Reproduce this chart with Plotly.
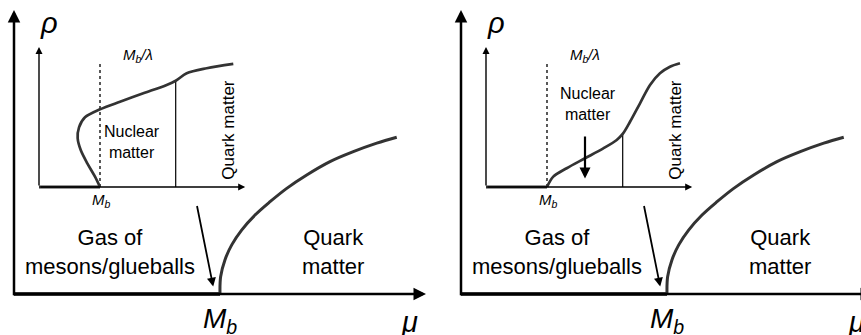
import plotly.graph_objects as go

# main diagram: mu in units of M_b, rho in arbitrary units
mu_quark = [1.0, 1.003, 1.024, 1.057, 1.105, 1.170, 1.243, 1.324, 1.421, 1.534, 1.647, 1.761, 1.858]
rho_quark = [0, 0.061, 0.120, 0.173, 0.225, 0.278, 0.325, 0.372, 0.419, 0.466, 0.501, 0.531, 0.552]
mu_gas = [0, 1.0]
rho_gas = [0, 0]

# inset, left panel (back-bending curve)
u_left = [1.0, 0.918, 0.792, 0.684, 0.634, 0.656, 0.754, 1.0, 1.328, 1.71, 2.093, 2.241, 2.421, 2.749, 3.185]
v_left = [0, 0.074, 0.169, 0.264, 0.348, 0.426, 0.498, 0.555, 0.609, 0.669, 0.729, 0.759, 0.812, 0.848, 0.879]
u_left_qm = [2.241, 2.241]
v_left_qm = [0, 0.759]

# inset, right panel (smooth curve)
u_right = [1.0, 1.103, 1.323, 1.623, 1.923, 2.143, 2.241, 2.361, 2.525, 2.689, 2.852, 3.016, 3.18]
v_right = [0, 0.074, 0.134, 0.205, 0.276, 0.336, 0.379, 0.466, 0.598, 0.729, 0.812, 0.859, 0.884]
u_right_qm = [2.241, 2.241]
v_right_qm = [0, 0.379]

u_dotted = [1.0, 1.0]
v_dotted = [0, 0.89]
u_base = [0, 1.0]
v_base = [0, 0]

W, H = 861, 335
FONT = "Arial, Liberation Sans, sans-serif"
CURVE = "#333333"

fig = go.Figure()

# axes: main left (x,y), main right (x2,y2), inset left (x3,y3), inset right (x4,y4)
def main_traces(xa, ya):
    fig.add_trace(go.Scatter(x=mu_gas, y=rho_gas, mode="lines", line=dict(color="black", width=3.5),
                             xaxis=xa, yaxis=ya, cliponaxis=False))
    fig.add_trace(go.Scatter(x=mu_quark, y=rho_quark, mode="lines", line=dict(color=CURVE, width=3, shape="spline"),
                             xaxis=xa, yaxis=ya, cliponaxis=False))

def inset_traces(xa, ya, u, v, uq, vq):
    fig.add_trace(go.Scatter(x=u_dotted, y=v_dotted, mode="lines", line=dict(color="black", width=1.3, dash="dot"),
                             xaxis=xa, yaxis=ya))
    fig.add_trace(go.Scatter(x=uq, y=vq, mode="lines", line=dict(color="black", width=1.2),
                             xaxis=xa, yaxis=ya))
    fig.add_trace(go.Scatter(x=u_base, y=v_base, mode="lines", line=dict(color=CURVE, width=3),
                             xaxis=xa, yaxis=ya))
    fig.add_trace(go.Scatter(x=u, y=v, mode="lines", line=dict(color=CURVE, width=2.7, shape="spline", smoothing=0.9),
                             xaxis=xa, yaxis=ya))

main_traces("x", "y")
main_traces("x2", "y2")
inset_traces("x3", "y3", u_left, v_left, u_left_qm, v_left_qm)
inset_traces("x4", "y4", u_right, v_right, u_right_qm, v_right_qm)

ann = []

def arrow(xr, yr, x, y, ax, ay, width, head=2, size=1.0):
    ann.append(dict(xref=xr, yref=yr, axref=xr, ayref=yr, x=x, y=y, ax=ax, ay=ay, text="",
                    showarrow=True, arrowhead=head, arrowsize=size, arrowwidth=width, arrowcolor="black"))

def label(xr, yr, x, y, text, size, angle=0):
    ann.append(dict(xref=xr, yref=yr, x=x, y=y, text=text, showarrow=False, textangle=angle,
                    font=dict(family=FONT, size=size, color="black")))

for xr, yr in [("x", "y"), ("x2", "y2")]:
    arrow(xr, yr, 0, 1.0, 0, -0.01, 2.5)
    arrow(xr, yr, 2.0, 0, -0.01, 0, 2.5)
    arrow(xr, yr, 0.967, 0.026, 0.887, 0.315, 1.8)
    label(xr, yr, 0.17, 0.955, "<i>ρ</i>", 29)
    label(xr, yr, 1.92, -0.1, "<i>μ</i>", 29)
    label(xr, yr, 1.0, -0.095, "<i>M<sub>b</sub></i>", 28)
    label(xr, yr, 0.466, 0.148, "Gas of<br>mesons/glueballs", 22)
    label(xr, yr, 1.549, 0.148, "Quark<br>matter", 22)

for xr, yr in [("x3", "y3"), ("x4", "y4")]:
    arrow(xr, yr, 0, 1.0, 0, 0, 1.4)
    arrow(xr, yr, 3.38, 0, 0, 0, 1.4)
    label(xr, yr, 1.62, 0.94, "<i>M<sub>b</sub>/λ</i>", 15)
    label(xr, yr, 1.03, -0.095, "<i>M<sub>b</sub></i>", 15)
    label(xr, yr, 3.1, 0.41, "Quark matter", 17, -90)

label("x3", "y3", 1.52, 0.32, "Nuclear<br>matter", 16)
label("x4", "y4", 1.677, 0.595, "Nuclear<br>matter", 16)
arrow("x4", "y4", 1.623, 0.06, 1.623, 0.371, 2.2)

def px_x(a, b):
    return [a / W, b / W]

def px_y(top, bottom):
    return [1 - bottom / H, 1 - top / H]

ax_hidden = dict(visible=False, fixedrange=True)
fig.update_layout(
    width=W, height=H, margin=dict(l=0, r=0, t=0, b=0),
    paper_bgcolor="white", plot_bgcolor="rgba(0,0,0,0)", showlegend=False,
    xaxis=dict(ax_hidden, domain=px_x(0, 430), range=[-14 / 206, 416 / 206]),
    yaxis=dict(ax_hidden, domain=[0, 1], range=[-41 / 284, 294 / 284]),
    xaxis2=dict(ax_hidden, domain=px_x(447, 861), range=[-14 / 206, 400 / 206]),
    yaxis2=dict(ax_hidden, domain=[0, 1], range=[-41 / 284, 294 / 284]),
    xaxis3=dict(ax_hidden, domain=px_x(30, 250), range=[-9 / 61, 211 / 61]),
    yaxis3=dict(ax_hidden, domain=px_y(40, 215), range=[-28 / 140, 147 / 140]),
    xaxis4=dict(ax_hidden, domain=px_x(477, 697), range=[-9 / 61, 211 / 61]),
    yaxis4=dict(ax_hidden, domain=px_y(40, 215), range=[-28 / 140, 147 / 140]),
    annotations=ann,
)

# the page body has a default 8px margin; drop it so the figure fills the window
fig.write_html("out.html", config={"displayModeBar": False},
               post_script="document.body.style.margin='0px';document.body.style.overflow='hidden';")
